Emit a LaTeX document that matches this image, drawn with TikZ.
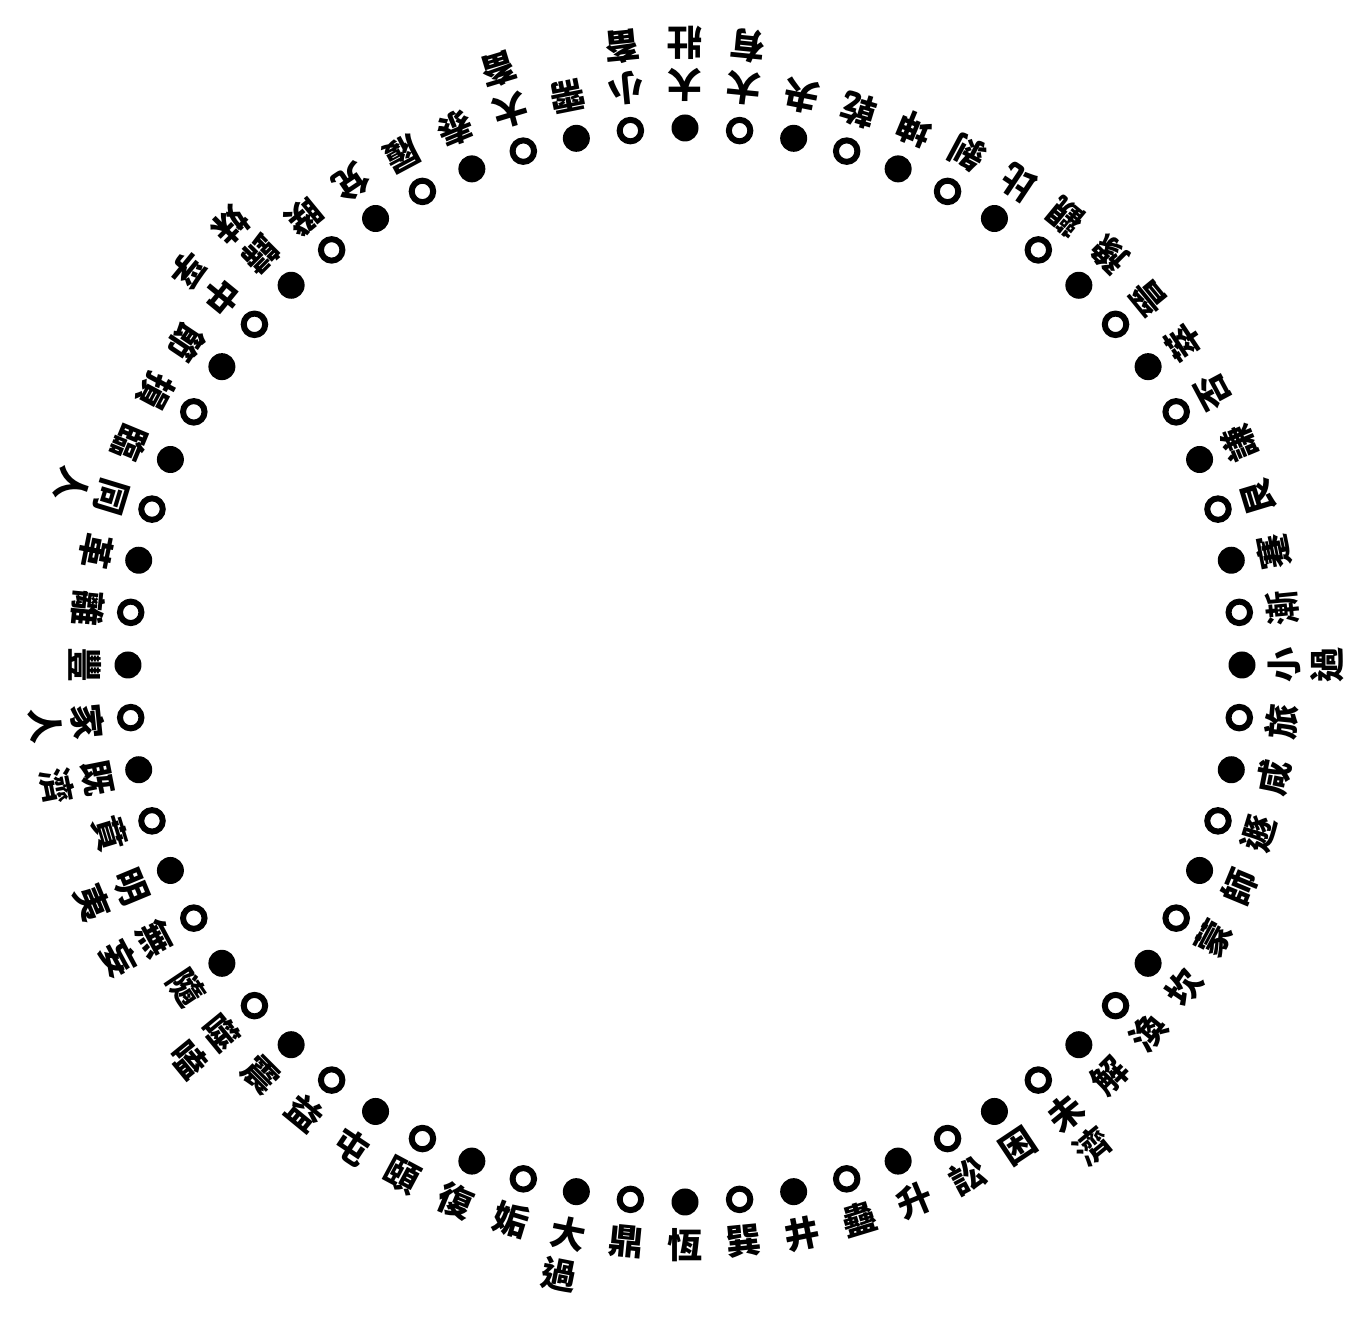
\documentclass[tikz,border=0pt]{standalone}
\usepackage{fontspec}
\newfontfamily\guafont{Noto Sans CJK TC}
\usetikzlibrary{positioning}

\tikzset{
  yangdot/.style={circle,fill=black,inner sep=0pt,minimum size=0.54cm},
  yindot/.style={circle,draw=black,line width=0.12cm,inner sep=0pt,minimum size=0.43cm},
  guaname/.style={inner sep=0pt,align=center,anchor=north,
    font=\guafont\bfseries\fontsize{20}{24}\selectfont}
}

\begin{document}
\begin{tikzpicture}[x=0.02cm,y=0.02cm]
\useasboundingbox (0,0) rectangle (1353,1328);
% 64 names in binary order, running counterclockwise from the top
\begin{scope}[shift={(685,663)}]
\foreach \gua [count=\i] in {乾,夬,大\\有,大\\壯,小\\畜,需,大\\畜,泰,履,兌,睽,歸\\妹,中\\孚,節,損,臨,
    同\\人,革,離,豐,家\\人,既\\濟,賁,明\\夷,無\\妄,隨,噬\\嗑,震,益,屯,頤,復,
    姤,大\\過,鼎,恆,巽,井,蠱,升,訟,困,未\\濟,解,渙,坎,蒙,師,
    遯,咸,旅,小\\過,漸,蹇,艮,謙,否,萃,晉,豫,觀,比,剝,坤} {
  \pgfmathsetmacro\ang{73.125+(\i-1)*5.625}
  \pgfmathsetmacro\rot{\ang+90}
  \ifodd\i
    \node[yindot] (d\i) at (\ang:557 and 537) {};
  \else
    \node[yangdot] (d\i) at (\ang:557 and 537) {};
  \fi
  \node[guaname,rotate=\rot] (n\i) at (\ang:583 and 563) {\gua};
}
\end{scope}
\end{tikzpicture}
\end{document}
